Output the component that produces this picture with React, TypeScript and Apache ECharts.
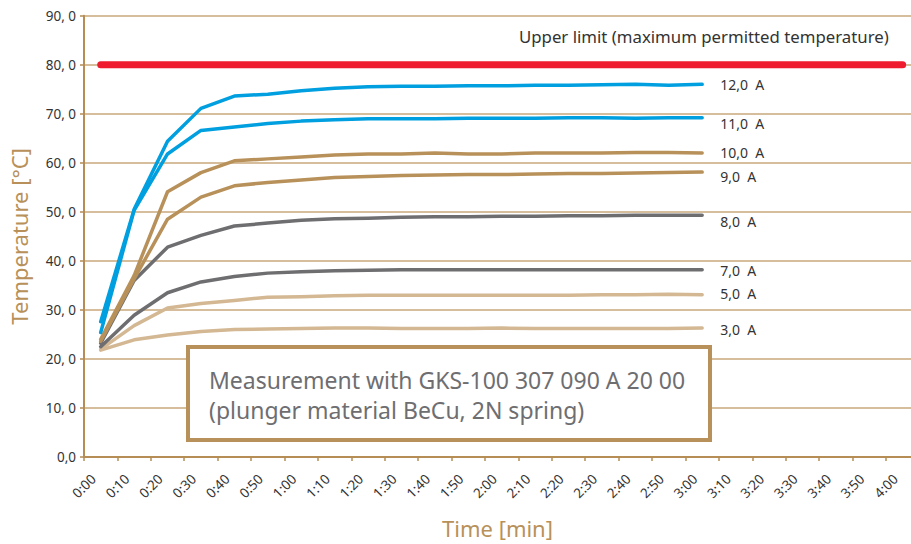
import React, { useEffect, useRef } from "react";
import * as echarts from "echarts";

const times = [5, 15, 25, 35, 45, 55, 65, 75, 85, 95, 105, 115, 125, 135, 145, 155, 165, 175, 185];
const s12 = [27.6, 50.5, 64.4, 71.1, 73.6, 74.0, 74.7, 75.2, 75.5, 75.6, 75.6, 75.7, 75.7, 75.8, 75.8, 75.9, 76.0, 75.8, 76.0];
const s11 = [25.4, 50.3, 61.8, 66.6, 67.3, 68.0, 68.5, 68.8, 69.0, 69.0, 69.0, 69.1, 69.1, 69.1, 69.2, 69.2, 69.1, 69.2, 69.2];
const s10 = [24.0, 37.0, 54.1, 58.0, 60.4, 60.8, 61.2, 61.6, 61.8, 61.8, 62.0, 61.8, 61.8, 62.0, 62.0, 62.0, 62.1, 62.1, 62.0];
const s9 = [23.6, 36.3, 48.5, 53.0, 55.3, 56.0, 56.5, 57.0, 57.2, 57.4, 57.5, 57.6, 57.6, 57.7, 57.8, 57.8, 57.9, 58.0, 58.1];
const s8 = [23.2, 36.0, 42.8, 45.2, 47.1, 47.7, 48.3, 48.6, 48.7, 48.9, 49.0, 49.0, 49.1, 49.1, 49.2, 49.2, 49.3, 49.3, 49.3];
const s7 = [22.5, 28.9, 33.5, 35.7, 36.8, 37.5, 37.8, 38.0, 38.1, 38.2, 38.2, 38.2, 38.2, 38.2, 38.2, 38.2, 38.2, 38.2, 38.2];
const s5 = [22.0, 26.8, 30.4, 31.3, 31.9, 32.6, 32.7, 32.9, 33.0, 33.0, 33.0, 33.0, 33.0, 33.0, 33.0, 33.1, 33.1, 33.2, 33.1];
const s3 = [21.8, 23.9, 24.9, 25.6, 26.0, 26.1, 26.2, 26.3, 26.3, 26.2, 26.2, 26.2, 26.3, 26.2, 26.2, 26.2, 26.2, 26.2, 26.3];
const limitTimes = [5, 245];
const limitValue = 80;
const seriesNames = ["12,0  A", "11,0  A", "10,0  A", "9,0  A", "8,0  A", "7,0  A", "5,0  A", "3,0  A"];
const xTicks = [0, 10, 20, 30, 40, 50, 60, 70, 80, 90, 100, 110, 120, 130, 140, 150, 160, 170, 180, 190, 200, 210, 220, 230, 240];

const BLUE = "#009fdf";
const BROWN = "#b8915a";
const GRAY = "#6e6e71";
const TAN = "#d3b893";
const AXIS = "#b58d55";
const GRID = "#c9a97c";
const FONT = "'Noto Sans', sans-serif";

const fmtTime = (v: number) => {
  const m = Math.floor(v / 60);
  const s = Math.round(v - m * 60);
  return m + ":" + (s < 10 ? "0" + s : "" + s);
};

export default function App() {
  const ref = useRef<HTMLDivElement>(null);
  useEffect(() => {
    if (!ref.current) return;
    const chart = echarts.init(ref.current, null, { renderer: "svg" });
    const all = [s12, s11, s10, s9, s8, s7, s5, s3];
    const colors = [BLUE, BLUE, BROWN, BROWN, GRAY, GRAY, TAN, TAN];
    const dy = [0, 6, 0, 4.5, 6, 1, -1, 1.5];
    const lines = all.map((arr, i) => ({
      type: "line",
      name: seriesNames[i],
      data: times.map((t, j) => [t, arr[j]]),
      showSymbol: false,
      symbol: "none",
      z: 10 - i,
      lineStyle: { color: colors[i], width: 3.5, cap: "round", join: "round" },
      endLabel: {
        show: true,
        formatter: seriesNames[i],
        distance: 18,
        offset: [0, dy[i]],
        color: "#333",
        fontSize: 14,
        fontFamily: FONT,
      },
    }));
    chart.setOption({
      animation: false,
      grid: { left: 83, right: 0, top: 15.7, bottom: 80 },
      xAxis: {
        type: "value",
        min: 0,
        max: 247.5,
        interval: 10,
        name: "Time [min]",
        nameLocation: "middle",
        nameGap: 60,
        nameTextStyle: { color: BROWN, fontSize: 22, fontFamily: FONT },
        axisLine: { show: true, lineStyle: { color: AXIS, width: 2 } },
        axisTick: { show: true, length: 4, lineStyle: { color: AXIS, width: 1.5 }, customValues: xTicks },
        axisLabel: {
          customValues: xTicks,
          rotate: 45,
          margin: 29,
          align: "center",
          verticalAlign: "middle",
          color: "#333",
          fontSize: 13.5,
          fontFamily: FONT,
          formatter: (v: number) => fmtTime(v),
        },
        splitLine: { show: false },
      },
      yAxis: {
        type: "value",
        min: 0,
        max: 90,
        interval: 10,
        name: "Temperature [°C]",
        nameLocation: "middle",
        nameGap: 54,
        nameRotate: 90,
        nameTextStyle: { color: BROWN, fontSize: 22, fontFamily: FONT },
        axisLine: { show: true, lineStyle: { color: AXIS, width: 2 } },
        axisTick: { show: true, length: 4, lineStyle: { color: AXIS, width: 1.5 } },
        axisLabel: {
          margin: 8,
          color: "#333",
          fontSize: 13.5,
          fontFamily: FONT,
          formatter: (v: number) => (v === 0 ? "0,0" : v + ", 0"),
        },
        splitLine: { show: true, lineStyle: { color: GRID, width: 1.5 } },
      },
      series: [
        ...lines,
        {
          type: "line",
          name: "limit",
          data: limitTimes.map((t) => [t, limitValue]),
          showSymbol: false,
          symbol: "none",
          z: 20,
          lineStyle: { color: "#ee1c2e", width: 7, cap: "round" },
        },
      ],
      graphic: [
        {
          type: "text",
          left: 519,
          top: 28,
          style: {
            text: "Upper limit (maximum permitted temperature)",
            fill: "#333",
            fontSize: 16.8,
            fontFamily: FONT,
          },
        },
        {
          type: "rect",
          left: 186,
          top: 345,
          z: 50,
          shape: { width: 522, height: 93 },
          style: { fill: "#fff", stroke: BROWN, lineWidth: 4 },
        },
        {
          type: "text",
          left: 209,
          top: 365,
          z: 51,
          style: {
            text: "Measurement with GKS-100 307 090 A 20 00\n(plunger material BeCu, 2N spring)",
            fill: GRAY,
            fontSize: 23,
            lineHeight: 30,
            fontFamily: FONT,
          },
        },
      ],
    });
    return () => chart.dispose();
  }, []);
  return (
    <div
      ref={ref}
      style={{ position: "absolute", left: 0, top: 0, width: 911, height: 544, background: "#fff" }}
    />
  );
}
